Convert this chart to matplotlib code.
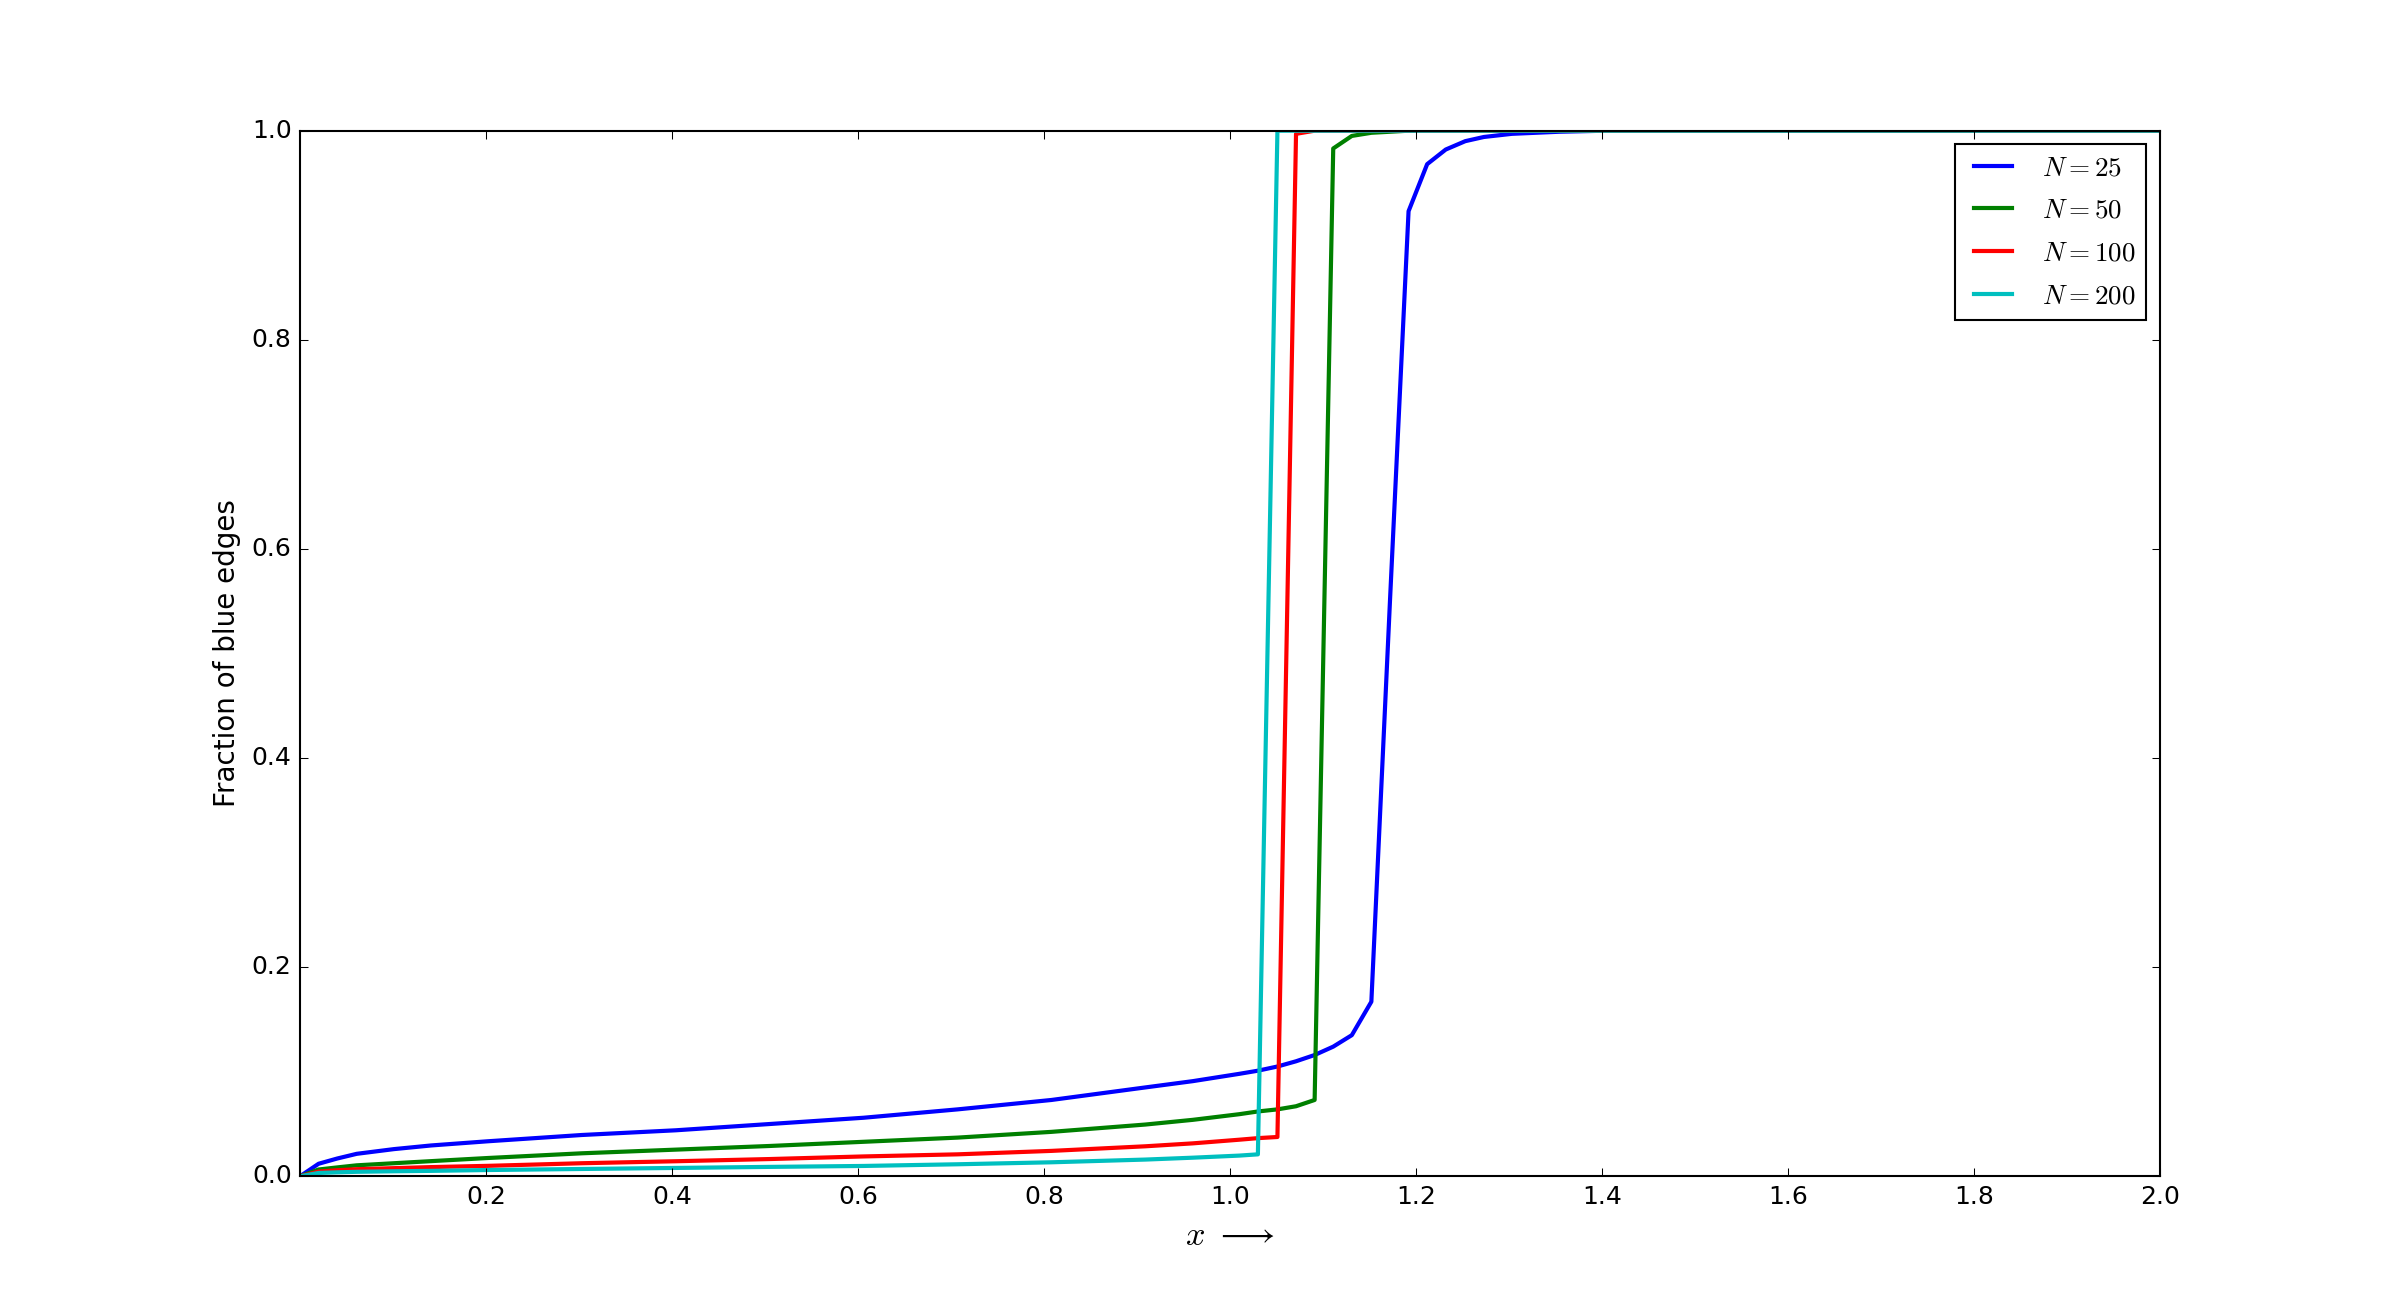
import matplotlib
matplotlib.use("Agg")
import matplotlib.pyplot as plt
import numpy as np

plt.style.use('classic')

# sample points (x) shared by all curves
x = [0.0, 0.020, 0.040, 0.061, 0.101, 0.141, 0.202, 0.303, 0.404, 0.505,
     0.606, 0.707, 0.808, 0.909, 0.960, 1.010, 1.030, 1.051, 1.071, 1.091,
     1.111, 1.131, 1.152, 1.172, 1.192, 1.212, 1.232, 1.253, 1.273, 1.303,
     1.354, 1.404, 1.505, 2.0]

y25 = [0.0, 0.012, 0.017, 0.0215, 0.026, 0.0295, 0.0335, 0.0395, 0.044, 0.050,
       0.056, 0.064, 0.073, 0.085, 0.091, 0.098, 0.101, 0.105, 0.110, 0.116,
       0.124, 0.135, 0.167, 0.55, 0.923, 0.968, 0.982, 0.990, 0.994, 0.997,
       0.999, 1.0, 1.0, 1.0]
y50 = [0.0, 0.0065, 0.0085, 0.0105, 0.0125, 0.0145, 0.0175, 0.022, 0.0255, 0.029,
       0.033, 0.037, 0.0425, 0.0495, 0.054, 0.0594, 0.062, 0.064, 0.067, 0.073,
       0.983, 0.995, 0.998, 0.999, 1.0, 1.0, 1.0, 1.0, 1.0, 1.0,
       1.0, 1.0, 1.0, 1.0]
y100 = [0.0, 0.0045, 0.0058, 0.0068, 0.0078, 0.0088, 0.010, 0.0125, 0.0144, 0.0165,
        0.019, 0.021, 0.0243, 0.0287, 0.0315, 0.035, 0.0365, 0.0376, 0.997, 1.0,
        1.0, 1.0, 1.0, 1.0, 1.0, 1.0, 1.0, 1.0, 1.0, 1.0,
        1.0, 1.0, 1.0, 1.0]
y200 = [0.0, 0.0032, 0.0038, 0.0043, 0.0048, 0.0052, 0.006, 0.007, 0.008, 0.009,
        0.0099, 0.0115, 0.0134, 0.016, 0.0178, 0.0198, 0.021, 1.0, 1.0, 1.0,
        1.0, 1.0, 1.0, 1.0, 1.0, 1.0, 1.0, 1.0, 1.0, 1.0,
        1.0, 1.0, 1.0, 1.0]

fig = plt.figure(figsize=(16, 1307/150), dpi=150)
ax = fig.add_subplot(111)

ax.plot(x, y25, 'b-', lw=2, label=r'$N=25$')
ax.plot(x, y50, 'g-', lw=2, label=r'$N=50$')
ax.plot(x, y100, 'r-', lw=2, label=r'$N=100$')
ax.plot(x, y200, 'c-', lw=2, label=r'$N=200$')

ax.set_xlim(0, 2.0)
ax.set_ylim(0, 1.0)
ax.set_xticks(np.arange(0.2, 2.01, 0.2))
ax.set_xlabel(r'$x\ \longrightarrow$', fontsize=16.5)
ax.set_ylabel('Fraction of blue edges', fontsize=13.3)
ax.legend(loc='upper right', fontsize=13, labelspacing=0.62)

fig.savefig('out.png', dpi=150)
